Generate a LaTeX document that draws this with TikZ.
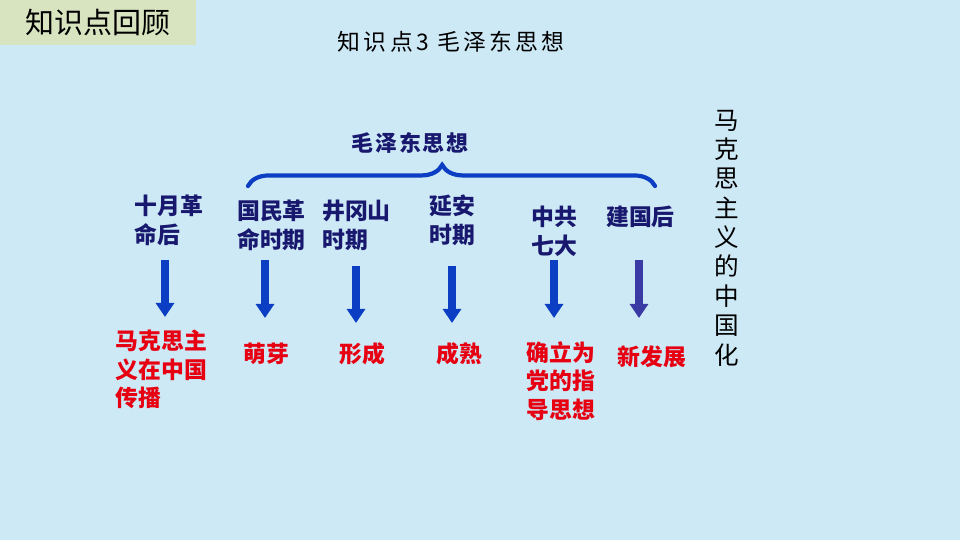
\documentclass[tikz,border=0pt]{standalone}
\usepackage{fontspec}
\setmainfont{Noto Sans CJK SC}
\usepackage{xcolor}
\usepackage{tikz}
\usetikzlibrary{arrows.meta,positioning,calc,decorations.pathreplacing}

\definecolor{bgblue}{RGB}{205,233,246}
\definecolor{tabgreen}{RGB}{216,228,192}
\definecolor{navy}{RGB}{24,24,110}
\definecolor{arrblue}{RGB}{12,62,196}
\definecolor{arrpurple}{RGB}{58,58,165}
\definecolor{resred}{RGB}{230,0,18}

\begin{document}
\begin{tikzpicture}[x=0.02cm,y=-0.02cm,
  lbl/.style={font=\fontsize{13}{16.5}\selectfont\bfseries, text=navy, inner sep=0pt, align=left},
  res/.style={font=\fontsize{13}{16.2}\selectfont\bfseries, text=resred, inner sep=0pt, align=left},
  downarrow/.style={line width=5.1pt, -{Triangle[width=10.2pt,length=8pt]}}]
  \useasboundingbox (0,0) rectangle (960,540);
  \fill[bgblue] (0,0) rectangle (960,540);
  % tab in the corner
  \fill[tabgreen] (0,0) rectangle (196,45);
  \node[font=\fontsize{16.5}{18}\selectfont, inner sep=0pt] (tab) at (98,23) {知识点回顾};
  \node[font=\fontsize{13}{15}\selectfont\addfontfeatures{LetterSpace=14}, inner sep=0pt] (title) at (451,42) {知识点3\ 毛泽东思想};

  % brace with its label
  \node[font=\fontsize{12.5}{15}\selectfont\bfseries\addfontfeatures{LetterSpace=8}, text=navy, inner sep=0pt] (mao) at (410,143) {毛泽东思想};
  \coordinate (bl) at (248,186);
  \coordinate (br) at (655,186);
  \draw[arrblue, line width=2.4pt, line cap=round, decorate,
    decoration={brace, amplitude=12pt, aspect=0.477}] (bl) -- (br);

  % periods
  \node[lbl] (oct)   at (169,220)   {十月革\\命后};
  \node[lbl] (nat)   at (271.5,225.5) {国民革\\命时期};
  \node[lbl] (jgs)   at (356.5,225.5) {井冈山\\时期};
  \node[lbl] (yan)   at (452.5,220) {延安\\时期};
  \node[lbl] (seven) at (554,231.5) {中共\\七大};
  \node[lbl] (prc)   at (640.5,217) {建国后};

  % arrows
  \foreach \x/\ya/\yb/\c [count=\i] in {165/260/317/arrblue, 265/260/318/arrblue,
      356/266/323/arrblue, 452/266/323/arrblue, 554/260/318/arrblue, 639/260/318/arrpurple} {
    \coordinate (top\i) at (\x,\ya);
    \coordinate (bot\i) at (\x,\yb);
    \draw[downarrow, \c] (top\i) -- (bot\i);
  }

  % results
  \node[res] (spread) at (161.5,369.5) {马克思主\\义在中国\\传播};
  \node[res] (sprout) at (266,354) {萌芽};
  \node[res] (form)   at (362,354) {形成};
  \node[res] (mature) at (459,354) {成熟};
  \node[res] (guide)  at (561,381) {确立为\\党的指\\导思想};
  \node[res] (newdev) at (652,357) {新发展};

  % vertical caption
  \node[font=\fontsize{14}{16.7}\selectfont, inner sep=0pt, align=center] (sinic) at (727,238)
    {马\\克\\思\\主\\义\\的\\中\\国\\化};
\end{tikzpicture}
\end{document}
